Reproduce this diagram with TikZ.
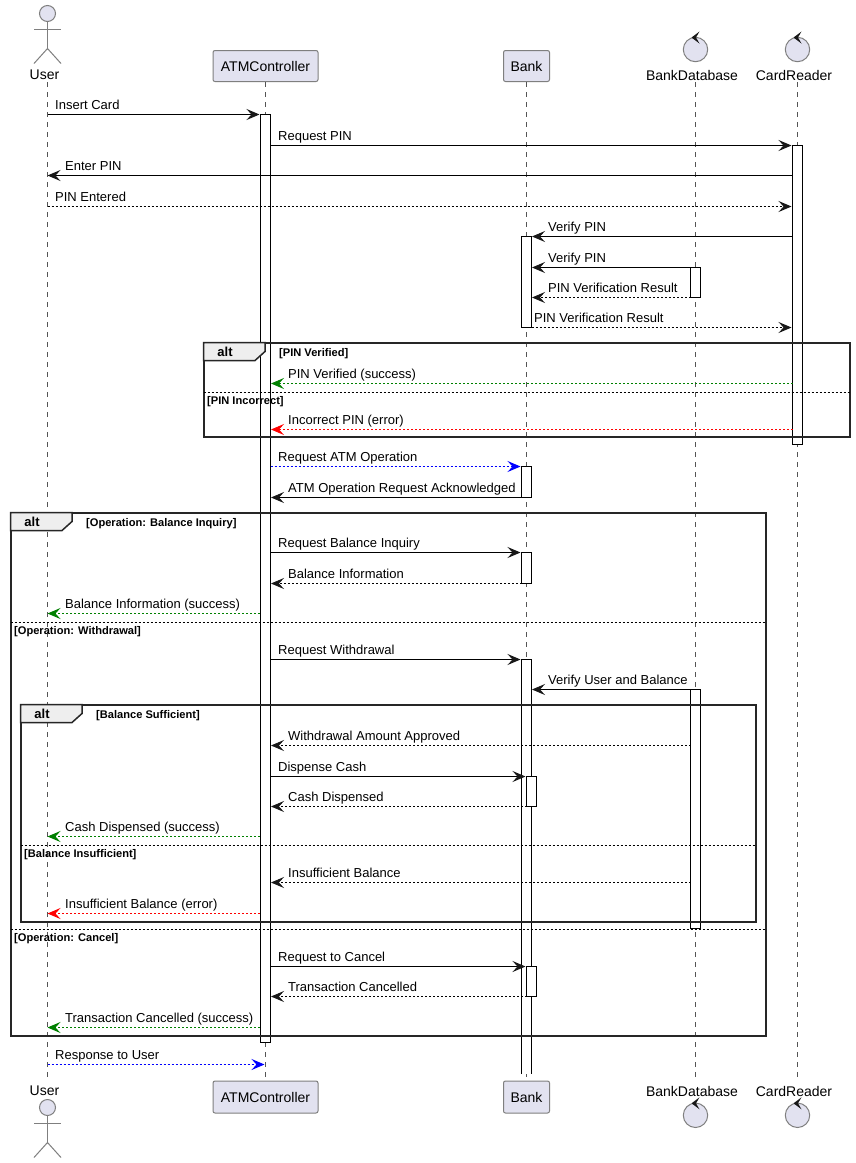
\documentclass[tikz,border=0pt]{standalone}
\usepackage{fontspec}
\setmainfont{Liberation Sans}
\usetikzlibrary{arrows.meta}
\definecolor{partfill}{HTML}{E2E2F0}
\definecolor{partline}{HTML}{7F7F7F}
\definecolor{tipdark}{HTML}{181818}
\definecolor{lifeline}{HTML}{555555}
\definecolor{tabfill}{HTML}{EEEEEE}
\definecolor{okgreen}{HTML}{008000}
\tikzset{
  x=1pt,y=-1pt,
  partbox/.style={draw=partline,fill=partfill,rounded corners=2pt,line width=1pt,inner sep=0pt,font=\fontsize{14}{16}\selectfont},
  parttext/.style={inner sep=0pt,font=\fontsize{14}{16}\selectfont},
  lifel/.style={draw=lifeline,line width=0.8pt,dash pattern=on 5pt off 5pt},
  barbox/.style={draw=black,fill=white,line width=1pt},
  msgsolid/.style={draw=black,line width=1pt,-{Stealth[length=13pt,width=11pt,inset=5pt,color=tipdark]}},
  msgdash/.style={msgsolid,dash pattern=on 2pt off 2pt},
  msgdashgreen/.style={draw=okgreen,line width=1pt,dash pattern=on 2pt off 2pt,-{Stealth[length=13pt,width=11pt,inset=5pt,color=okgreen]}},
  msgdashred/.style={draw=red,line width=1pt,dash pattern=on 2pt off 2pt,-{Stealth[length=13pt,width=11pt,inset=5pt,color=red]}},
  msgdashblue/.style={draw=blue,line width=1pt,dash pattern=on 2pt off 2pt,-{Stealth[length=13pt,width=11pt,inset=5pt,color=blue]}},
  msgtext/.style={anchor=base west,inner sep=0pt,font=\fontsize{13}{15}\selectfont},
  frameline/.style={draw=black!85,line width=2pt},
  tabshape/.style={draw=black!85,fill=tabfill,line width=1.5pt},
  divline/.style={draw=black,line width=1pt,dash pattern=on 2pt off 2pt},
  guardtext/.style={anchor=base west,inner sep=0pt,font=\fontsize{11.1}{13}\selectfont\bfseries},
  alttext/.style={inner sep=0pt,font=\fontsize{13}{15}\selectfont\bfseries},
  actorline/.style={draw=partline,line width=1pt},
  ctrlarrow/.style={fill=tipdark,draw=none}
}
% name, style, x1, x2, y, label x, text
\newcommand{\Msg}[7]{%
  \coordinate (#1s) at (#3,#5);
  \coordinate (#1e) at (#4,#5);
  \draw[#2] (#1s) -- (#1e);
  \node[msgtext] (#1t) at (#6,#5-4.7) {#7};
}
% name, x1, x2, top, bottom, tab right, guard
\newcommand{\AltFrame}[7]{%
  \draw[frameline] (#2,#4) rectangle (#3,#5);
  \draw[tabshape] (#2,#4) -- (#6,#4) -- (#6,#4+9) -- (#6-10,#4+18) -- (#2,#4+18) -- cycle;
  \node[alttext] (#1a) at (#2+21.5,#4+9.5) {alt};
  \node[guardtext] (#1g) at (#6+14,#4+14) {#7};
}
% name, x1, x2, y, label x, guard
\newcommand{\Divider}[6]{%
  \draw[divline] (#2,#4) -- (#3,#4);
  \node[guardtext] (#1g) at (#5,#4+12) {#6};
}
\newcommand{\ActorAt}[2]{% x, head y
  \draw[actorline,fill=partfill] (#1,#2) circle (8);
  \draw[actorline] (#1,#2+8) -- (#1,#2+35);
  \draw[actorline] (#1-13.5,#2+16) -- (#1+13.5,#2+16);
  \draw[actorline] (#1-13.5,#2+50) -- (#1,#2+35) -- (#1+13.5,#2+50);
}
\newcommand{\ControlAt}[2]{% x, circle centre y
  \draw[actorline,fill=partfill] (#1,#2) circle (12.2);
  \fill[ctrlarrow] (#1+4,#2-18) -- (#1-4,#2-12) -- (#1+4,#2-6) -- (#1+0.5,#2-12) -- cycle;
}
\begin{document}
\begin{tikzpicture}
\useasboundingbox (0,0) rectangle (855,1163);
\fill[white] (0,0) rectangle (855,1163);

% participants
\node[parttext] (userT) at (44.5,75) {User};
\node[partbox,minimum width=105pt,minimum height=31pt] (atmT) at (265.5,66) {ATMController};
\node[partbox,minimum width=46pt,minimum height=31pt] (bankT) at (526.5,66) {Bank};
\node[parttext] (dbT) at (692,75) {BankDatabase};
\node[parttext] (crT) at (794,75) {CardReader};
\node[parttext] (userB) at (44.5,1091) {User};
\node[partbox,minimum width=105pt,minimum height=32pt] (atmB) at (265.5,1097) {ATMController};
\node[partbox,minimum width=46pt,minimum height=32pt] (bankB) at (526.5,1097) {Bank};
\node[parttext] (dbB) at (692,1091) {BankDatabase};
\node[parttext] (crB) at (794,1091) {CardReader};
\ActorAt{47.5}{13.5}
\ActorAt{47.5}{1107.5}
\ControlAt{695.5}{49.5}
\ControlAt{797.5}{49.5}
\ControlAt{695.5}{1115.3}
\ControlAt{797.5}{1115.3}

% lifelines
\draw[lifel] (47.5,82) -- (47.5,1078);
\draw[lifel] (265.5,82) -- (265.5,1080);
\draw[lifel] (526.5,82) -- (526.5,1080);
\draw[lifel] (695.5,82) -- (695.5,1078);
\draw[lifel] (797.5,82) -- (797.5,1078);

% activation bars
\draw[barbox] (260.5,114.5) rectangle (270.5,1042);
\draw[barbox] (792.5,145.5) rectangle (802.5,444);
\draw[barbox] (521.5,236.5) rectangle (531.5,327.5);
\draw[barbox] (690.5,267.5) rectangle (700.5,297.5);
\draw[barbox] (521.5,466.5) rectangle (531.5,497.5);
\draw[barbox] (521.5,552.5) rectangle (531.5,583.5);
\fill[white] (521.5,659.5) rectangle (531.5,1074);
\draw[draw=black,line width=1pt] (521.5,1074) -- (521.5,659.5) -- (531.5,659.5) -- (531.5,1074);
\draw[barbox] (690.5,689.5) rectangle (700.5,928);
\draw[barbox] (526.5,776.5) rectangle (536.5,806.5);
\draw[barbox] (526.5,966.5) rectangle (536.5,996.5);

% frames
\AltFrame{fa}{203.5}{849.5}{342.5}{437}{265}{[PIN Verified]}
\Divider{fb}{203.5}{849.5}{392.5}{207}{[PIN Incorrect]}
\AltFrame{fc}{10.5}{765.5}{512.5}{1035.5}{72}{[Operation: Balance Inquiry]}
\Divider{fd}{10.5}{765.5}{622.5}{14}{[Operation: Withdrawal]}
\Divider{fe}{10.5}{765.5}{929.5}{14}{[Operation: Cancel]}
\AltFrame{ff}{20.5}{755.5}{704.5}{921.5}{82}{[Balance Sufficient]}
\Divider{fg}{20.5}{755.5}{845.5}{24}{[Balance Insufficient]}

% messages
\Msg{m1}{msgsolid}{47.5}{259.5}{114.5}{55}{Insert Card}
\Msg{m2}{msgsolid}{270.5}{791.5}{145.5}{278}{Request PIN}
\Msg{m3}{msgsolid}{792.5}{47.5}{175.5}{65}{Enter PIN}
\Msg{m4}{msgdash}{47.5}{791.5}{206.5}{55}{PIN Entered}
\Msg{m5}{msgsolid}{792.5}{532}{236.5}{548}{Verify PIN}
\Msg{m6}{msgsolid}{690.5}{532}{267.5}{548}{Verify PIN}
\Msg{m7}{msgdash}{690.5}{532}{297.5}{548}{PIN Verification Result}
\Msg{m8}{msgdash}{531.5}{791.5}{327.5}{534}{PIN Verification Result}
\Msg{m9}{msgdashgreen}{792.5}{271}{383.5}{288}{PIN Verified (success)}
\Msg{m10}{msgdashred}{792.5}{271}{429.5}{288}{Incorrect PIN (error)}
\Msg{m11}{msgdashblue}{270.5}{520.5}{466.5}{278}{Request ATM Operation}
\Msg{m12}{msgsolid}{521.5}{271}{497.5}{288}{ATM Operation Request Acknowledged}
\Msg{m13}{msgsolid}{270.5}{520.5}{552.5}{278}{Request Balance Inquiry}
\Msg{m14}{msgdash}{521.5}{271}{583.5}{288}{Balance Information}
\Msg{m15}{msgdashgreen}{259.5}{47.5}{613.5}{65}{Balance Information (success)}
\Msg{m16}{msgsolid}{270.5}{520.5}{659.5}{278}{Request Withdrawal}
\Msg{m17}{msgsolid}{690.5}{532}{689.5}{548}{Verify User and Balance}
\Msg{m18}{msgdash}{690.5}{271}{745.5}{288}{Withdrawal Amount Approved}
\Msg{m19}{msgsolid}{270.5}{525.5}{776.5}{278}{Dispense Cash}
\Msg{m20}{msgdash}{526.5}{271}{806.5}{288}{Cash Dispensed}
\Msg{m21}{msgdashgreen}{259.5}{47.5}{836.5}{65}{Cash Dispensed (success)}
\Msg{m22}{msgdash}{690.5}{271}{882.5}{288}{Insufficient Balance}
\Msg{m23}{msgdashred}{259.5}{47.5}{913.5}{65}{Insufficient Balance (error)}
\Msg{m24}{msgsolid}{270.5}{525.5}{966.5}{278}{Request to Cancel}
\Msg{m25}{msgdash}{526.5}{271}{996.5}{288}{Transaction Cancelled}
\Msg{m26}{msgdashgreen}{259.5}{47.5}{1027.5}{65}{Transaction Cancelled (success)}
\Msg{m27}{msgdashblue}{47.5}{264.5}{1064.5}{55}{Response to User}
\end{tikzpicture}
\end{document}
